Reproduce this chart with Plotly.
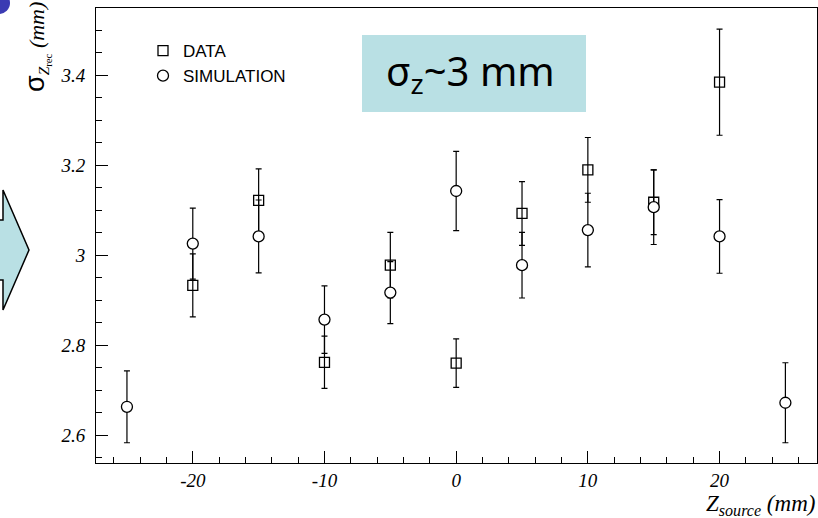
import plotly.graph_objects as go

# ---- data ----
z_data = [-20, -15, -10, -5, 0, 5, 10, 15, 20]
sigma_data = [2.933, 3.122, 2.762, 2.978, 2.760, 3.093, 3.190, 3.118, 3.385]
err_data = [0.070, 0.070, 0.058, 0.073, 0.054, 0.071, 0.072, 0.072, 0.118]

z_sim = [-25, -20, -15, -10, -5, 0, 5, 10, 15, 20, 25]
sigma_sim = [2.663, 3.026, 3.042, 2.857, 2.917, 3.143, 2.978, 3.056, 3.107, 3.042, 2.672]
err_sim = [0.080, 0.079, 0.081, 0.075, 0.069, 0.088, 0.073, 0.082, 0.083, 0.082, 0.089]

x_tickvals = [-20, -10, 0, 10, 20]
x_ticktext = ["-20", "-10", "0", "10", "20"]
y_tickvals = [2.6, 2.8, 3.0, 3.2, 3.4]
y_ticktext = ["2.6", "2.8", "3", "3.2", "3.4"]

# ---- layout geometry (pixels) ----
W, H = 818, 518
L, R, T, B = 96, 1, 8, 55
PW, PH = W - L - R, H - T - B

def px(x):
    return (x - L) / PW

def py(y):
    return (H - B - y) / PH

fig = go.Figure()

eb = dict(type="data", thickness=1.2, width=3, color="black")

fig.add_trace(go.Scatter(
    x=z_data, y=sigma_data, mode="markers", name="DATA",
    error_y=dict(array=err_data, **eb),
    marker=dict(symbol="square-open", size=10, color="black", line=dict(width=1.3)),
))
fig.add_trace(go.Scatter(
    x=z_sim, y=sigma_sim, mode="markers", name="SIMULATION",
    error_y=dict(array=err_sim, **eb),
    marker=dict(symbol="circle", size=11, color="white", line=dict(width=1.3, color="black")),
))

tickfont = dict(family="Liberation Serif", size=19, color="black", style="italic")

fig.update_xaxes(
    range=[-27.35, 27.4], showgrid=False, zeroline=False,
    showline=True, linecolor="black", linewidth=1, mirror=True,
    ticks="inside", ticklen=12, tickcolor="black", tickwidth=1,
    tickvals=x_tickvals, ticktext=x_ticktext, tickfont=tickfont,
    ticklabelstandoff=0,
    minor=dict(dtick=2, tick0=0, ticks="inside", ticklen=6, tickcolor="black", tickwidth=1),
)
fig.update_yaxes(
    range=[2.538, 3.55], showgrid=False, zeroline=False,
    showline=True, linecolor="black", linewidth=1, mirror=True,
    ticks="inside", ticklen=12, tickcolor="black", tickwidth=1,
    tickvals=y_tickvals, ticktext=y_ticktext, tickfont=tickfont,
    ticklabelstandoff=6,
    minor=dict(dtick=0.05, tick0=2.6, ticks="inside", ticklen=6, tickcolor="black", tickwidth=1),
)

shapes = []
# arrow decoration on the left
pts = [(-10, 220), (3, 220), (3, 190), (29, 250), (3, 310), (3, 280), (-10, 280)]
path = "M " + " L ".join(f"{px(a):.5f},{py(b):.5f}" for a, b in pts) + " Z"
shapes.append(dict(type="path", xref="paper", yref="paper", path=path,
                   fillcolor="#b9e0e4", line=dict(color="black", width=1.5), layer="above"))
# blue dot in corner
shapes.append(dict(type="circle", xref="paper", yref="paper",
                   x0=px(-12), x1=px(10), y0=py(14), y1=py(-8),
                   fillcolor="#3b3bb3", line=dict(width=0)))
# light-blue label box
shapes.append(dict(type="rect", xref="paper", yref="paper",
                   x0=px(362), x1=px(586), y0=py(112), y1=py(35),
                   fillcolor="#b9e0e4", line=dict(width=0), layer="below"))

annotations = [
    dict(xref="paper", yref="paper", x=px(470), y=py(72), showarrow=False,
         text="σ<sub>z</sub>~3 mm", font=dict(family="Noto Sans", size=40, color="black"),
         xanchor="center", yanchor="middle"),
    dict(xref="paper", yref="paper", x=px(W - 1), y=py(505), showarrow=False,
         text="Z<sub>source</sub> (mm)",
         font=dict(family="Liberation Serif", size=23, color="black", style="italic"),
         xanchor="right", yanchor="middle"),
    dict(xref="paper", yref="paper", x=px(37), y=py(47), showarrow=False, textangle=-90,
         text="<span style='font-family:Liberation Sans;font-size:27px'>σ</span>"
              "<sub><i>Z</i><sub>rec</sub></sub> <i>(mm)</i>",
         font=dict(family="Liberation Serif", size=22, color="black"),
         xanchor="center", yanchor="middle"),
]

fig.update_layout(
    width=W, height=H,
    margin=dict(l=L, r=R, t=T, b=B, pad=0),
    paper_bgcolor="white", plot_bgcolor="white",
    showlegend=True,
    legend=dict(x=px(143), y=py(33), xanchor="left", yanchor="top",
                bgcolor="rgba(0,0,0,0)", font=dict(family="Liberation Sans", size=17, color="black"),
                itemwidth=30, tracegroupgap=0),
    shapes=shapes, annotations=annotations,
)

fig.write_html("out.html", config={"displayModeBar": False},
               post_script="document.body.style.margin='0px';")
